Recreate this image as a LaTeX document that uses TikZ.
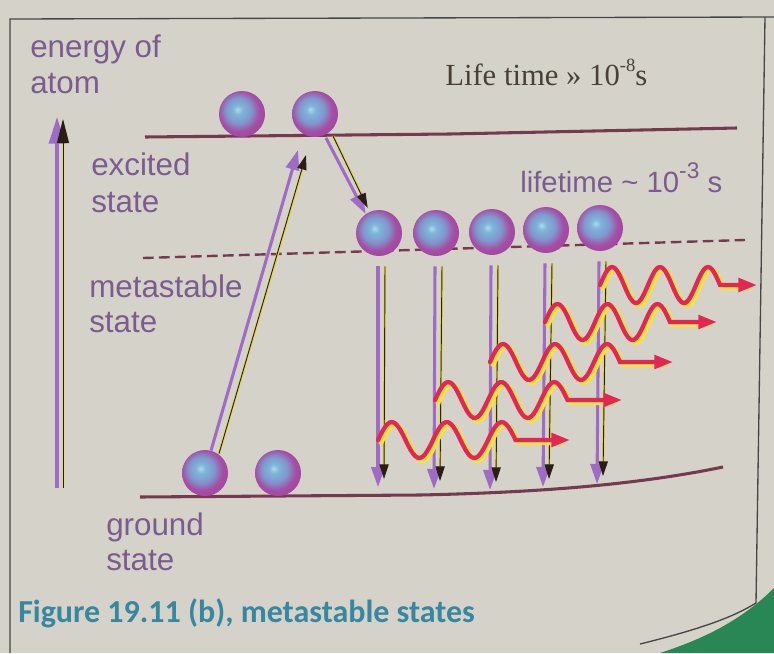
\documentclass[tikz,border=0pt]{standalone}
\usepackage{fontspec}
\setmainfont{Liberation Sans}
\newfontfamily\serifA{Liberation Serif}
\newfontfamily\capfont{Carlito}
\usetikzlibrary{arrows.meta,calc}
\definecolor{bgc}{RGB}{213,211,201}
\definecolor{pagegreen}{RGB}{40,135,85}
\definecolor{framec}{RGB}{70,70,70}
\definecolor{levelc}{RGB}{118,58,78}
\definecolor{purplec}{RGB}{158,108,196}
\definecolor{blackc}{RGB}{40,30,20}
\definecolor{yellowc}{RGB}{225,215,90}
\definecolor{labelc}{RGB}{122,92,142}
\definecolor{capc}{RGB}{55,135,160}
\definecolor{waver}{RGB}{226,40,82}
\definecolor{wavey}{RGB}{246,226,70}
\definecolor{ballhi}{RGB}{178,216,232}
\definecolor{balllb}{RGB}{125,182,216}
\definecolor{ballblue}{RGB}{128,150,205}
\definecolor{ballpur}{RGB}{165,78,165}
\definecolor{ballpur2}{RGB}{158,64,152}
\definecolor{balledge}{RGB}{128,44,122}
\pgfdeclareradialshading{atomball}{\pgfpoint{-5bp}{5bp}}{color(0bp)=(ballhi); color(5bp)=(balllb); color(14bp)=(ballblue); color(22bp)=(ballpur); color(34bp)=(ballpur2); color(44bp)=(balledge); color(60bp)=(balledge)}
\newcommand\photonw[4]{% x start, y center, lambda, tip x
  \pgfmathsetmacro\pwend{2.5*#3}
  \draw[wy] plot[smooth, domain=0:\pwend, samples=60] ({#1+\x+3},{#2+2.5-18*sin(\x/#3*360)}) -- (#4-8,#2+2.5);
  \draw[wr] plot[smooth, domain=0:\pwend, samples=60] ({#1+\x},{#2-18*sin(\x/#3*360)}) -- (#4,#2);
}
\begin{document}
\begin{tikzpicture}[x=0.75pt,y=-0.75pt,
  level/.style={draw=levelc, line width=2.3pt},
  metaline/.style={draw=levelc, line width=1.8pt, dash pattern=on 8pt off 4pt},
  atom/.style={circle, minimum size=34.5pt, inner sep=0pt, shading=atomball},
  parrow/.style={draw=purplec, line width=2.3pt, -{Triangle[length=15pt,width=10pt]}},
  bigparrow/.style={draw=purplec, line width=2.5pt, -{Triangle[length=20pt,width=12pt]}},
  byel/.style={draw=yellowc, line width=2pt},
  barrow/.style={draw=blackc, line width=0.7pt, -{Triangle[length=11pt,width=7pt]}},
  wr/.style={draw=waver, line width=3.2pt, line cap=round, -{Triangle[length=14pt,width=10pt]}},
  wy/.style={draw=wavey, line width=3.8pt, line cap=round},
  lbl/.style={font=\fontsize{23.5}{28}\selectfont, text=labelc, inner sep=0pt, anchor=base west},
  frame/.style={draw=framec, line width=1pt}]
\useasboundingbox (0,0) rectangle (774,653);
\fill[bgc] (0,0) rectangle (774,653);
\fill[pagegreen] (660,653) .. controls (700,640) and (740,622) .. (774,588) -- (774,653) -- cycle;
% frame
\draw[frame] (10,653) -- (10,19) -- (774,17);
\draw[frame] (765,17) -- (756,603) .. controls (735,616) and (705,628) .. (640,644);

% energy levels
\draw[level] (145,137) -- (450,134) -- (737,128);
\draw[metaline] (143,258) -- (745,240);
\draw[level] (140,497) -- (420,495) .. controls (560,492) and (650,482) .. (723,467);

% atoms
\node[atom] (e1) at (242,114) {};
\node[atom] (e2) at (315,114) {};
\node[atom] (m1) at (379,233) {};
\node[atom] (m2) at (436,233) {};
\node[atom] (m3) at (492,232) {};
\node[atom] (m4) at (546,230) {};
\node[atom] (m5) at (600,228) {};
\node[atom] (g1) at (205,473) {};
\node[atom] (g2) at (278,473) {};

% energy axis
\coordinate (axb) at (57,488);
\coordinate (axt) at (57,117);
\draw[byel] ($(axb)+(6,0)$) -- ($(axt)+(6,20)$);
\draw[bigparrow] (axb) -- (axt);
\draw[barrow, -{Triangle[length=18pt,width=9pt]}] ($(axb)+(6,0)$) -- ($(axt)+(6,2)$);

% pumping up
\coordinate (upend) at (298,150);
\draw[byel] ($(g1.75)+(8,3)$) -- ($(upend)+(6,14)$);
\draw[parrow] (g1.75) -- (upend);
\draw[barrow] ($(g1.75)+(8,3)$) -- ($(upend)+(8,5)$);

% decay to metastable
\coordinate (dnstart) at (326,138);
\draw[byel] ($(dnstart)+(7,-2)$) -- ($(m1.125)+(0,-12)$);
\draw[parrow] (dnstart) -- (m1.125);
\draw[barrow] ($(dnstart)+(7,-2)$) -- ($(m1.125)+(2,-6)$);

% stimulated emission down arrows
\foreach \i/\xx/\yy in {1/378/487, 2/434/489, 3/490/490, 4/543/487, 5/597/484}{
  \coordinate (t\i) at (\xx,\yy);
  \draw[byel] ($(m\i.south)+(6,10)$) -- ($(t\i)+(6,-20)$);
  \draw[parrow] ($(m\i.south)+(-1,10)$) -- (t\i);
  \draw[barrow] ($(m\i.south)+(6,10)$) -- ($(t\i)+(6,-8)$);
}

% photons
\photonw{378}{440}{55}{570}
\photonw{435}{400}{53}{622}
\photonw{490}{362}{52}{673}
\photonw{545}{322}{50}{717}
\photonw{600}{285}{48}{757}

% labels
\node[lbl] (l1) at (30,57) {energy of};
\node[lbl] (l2) at (30,93) {atom};
\node[lbl] (l3) at (91,175) {excited};
\node[lbl] (l4) at (91,212) {state};
\node[lbl] (l5) at (89,297) {metastable};
\node[lbl] (l6) at (89,332) {state};
\node[lbl] (l7) at (106,535) {ground};
\node[lbl] (l8) at (106,570) {state};

\node[anchor=base west, inner sep=0pt, text=blackc!85, font=\serifA\fontsize{23}{27}\selectfont] (lt1) at (445,85) {Life time » 10\raisebox{0.45em}{\fontsize{14}{14}\selectfont -8}s};
\node[anchor=base west, inner sep=0pt, text=labelc, font=\fontsize{22}{26}\selectfont] (lt2) at (520,192) {lifetime \textasciitilde\ 10\raisebox{0.45em}{\fontsize{17}{17}\selectfont -3} s};

\node[anchor=base west, inner sep=0pt, text=capc, font=\capfont\bfseries\fontsize{24}{28}\selectfont] (cap) at (18,622) {Figure 19.11 (b), metastable states};
\end{tikzpicture}
\end{document}
